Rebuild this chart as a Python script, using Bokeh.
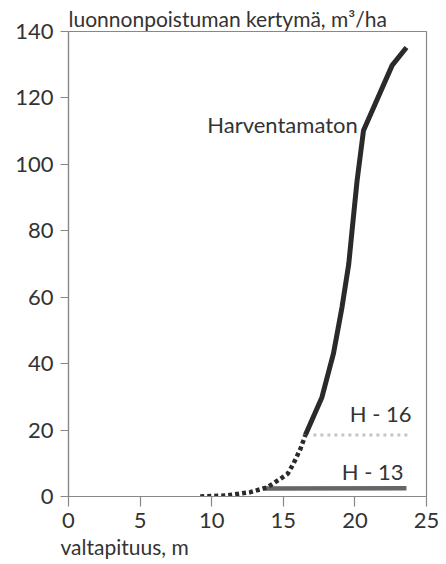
from bokeh.plotting import figure
from bokeh.models import Range1d, FixedTicker, Label, Title
from bokeh.embed import file_html
from bokeh.resources import INLINE

# Data
harv_dot_x = [9.2, 11.0, 12.7, 13.9, 14.6, 15.3, 15.7, 16.2, 16.55]
harv_dot_y = [0.0, 0.3, 1.3, 2.8, 4.8, 6.8, 9.8, 14.4, 18.6]
harv_x = [16.55, 17.7, 18.5, 19.1, 19.57, 19.87, 20.15, 20.6, 22.6, 23.6]
harv_y = [18.6, 29.9, 43.0, 57.0, 70.0, 83.0, 95.0, 110.2, 129.8, 135.2]
h16_x = [17.1, 23.7]
h16_y = [18.5, 18.5]
h13_x = [13.6, 23.6]
h13_y = [2.4, 2.5]
x_ticks = [0, 5, 10, 15, 20, 25]
y_ticks = [0, 20, 40, 60, 80, 100, 120, 140]
y_title = "luonnonpoistuman kertymä, m³/ha"
x_title = "valtapituus, m"

FONT = "Lato"
TXT = "#333333"
AX = "#888888"

p = figure(width=446, height=564, output_backend="svg", toolbar_location=None,
           x_range=Range1d(0, 25), y_range=Range1d(0, 140),
           min_border_left=68, min_border_right=20, min_border_top=31, min_border_bottom=68)
p.title.visible = False
p.xgrid.visible = False
p.ygrid.visible = False
p.outline_line_color = AX
p.outline_line_width = 1.2
p.background_fill_color = "white"
p.border_fill_color = "white"

for ax in (p.xaxis, p.yaxis):
    ax.axis_line_color = AX
    ax.axis_line_width = 1.2
    ax.major_tick_line_color = AX
    ax.major_tick_line_width = 1.2
    ax.minor_tick_line_color = None
    ax.major_tick_in = 0
    ax.major_label_text_font = FONT
    ax.major_label_text_font_size = "22px"
    ax.major_label_text_color = TXT
p.xaxis.ticker = FixedTicker(ticks=x_ticks)
p.yaxis.ticker = FixedTicker(ticks=y_ticks)
p.xaxis.major_tick_out = 10
p.yaxis.major_tick_out = 8
p.xaxis.major_label_standoff = 6
p.yaxis.major_label_standoff = 7

p.add_layout(Title(text=y_title, align="left", text_font=FONT, text_font_size="21px",
                   text_font_style="normal", text_color=TXT, standoff=2), "above")
p.add_layout(Title(text=x_title, align="left", text_font=FONT, text_font_size="21px",
                   text_font_style="normal", text_color=TXT, standoff=2, offset=-8), "below")

p.line(h16_x, h16_y, line_color="#c4c4c4", line_width=3, line_dash="3 4")
p.line(h13_x, h13_y, line_color="#666666", line_width=4.5)
p.line(harv_dot_x, harv_dot_y, line_color="#2a2a2a", line_width=4.5, line_dash="4 3")
p.line(harv_x, harv_y, line_color="#2a2a2a", line_width=5, line_join="round")

p.add_layout(Label(x=20.2, y=112, text="Harventamaton", text_align="right",
                   text_baseline="middle", text_font=FONT, text_font_size="22px",
                   text_color=TXT))
p.add_layout(Label(x=23.95, y=25, text="H - 16", text_align="right",
                   text_baseline="middle", text_font=FONT, text_font_size="22px",
                   text_color=TXT))
p.add_layout(Label(x=23.4, y=7.5, text="H - 13", text_align="right",
                   text_baseline="middle", text_font=FONT, text_font_size="22px",
                   text_color=TXT))

open("out.html", "w").write(file_html(p, INLINE))
